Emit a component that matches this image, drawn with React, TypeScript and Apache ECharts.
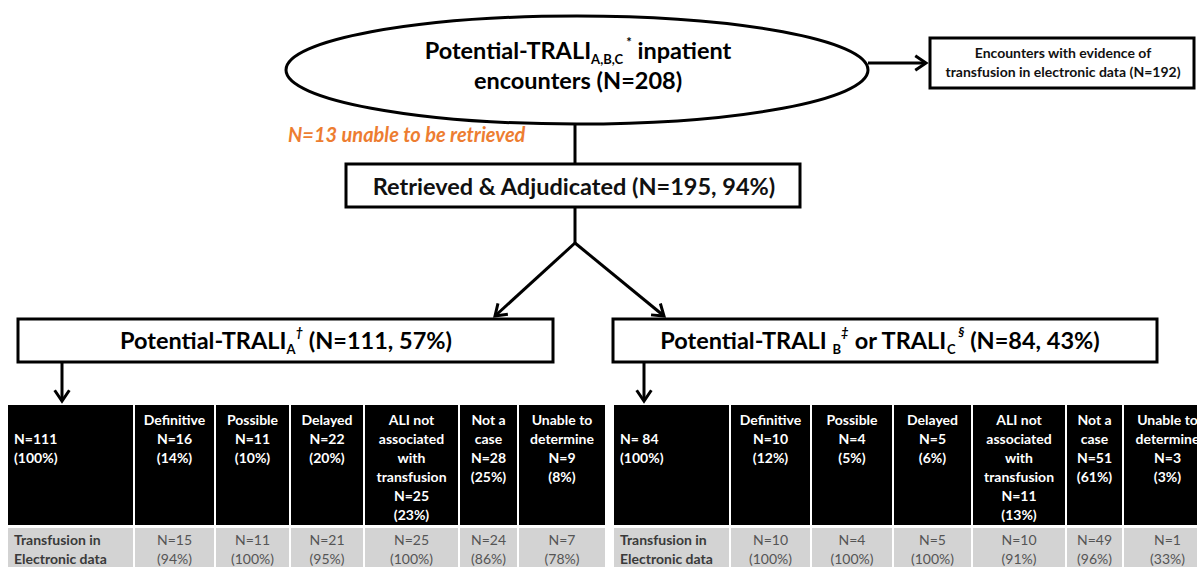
import React, { useEffect, useRef } from "react";
import * as echarts from "echarts";

// ---------- data ----------
const totalEncounters = 208;
const unableRetrieved = 13;
const retrievedN = 195;
const retrievedPct = 94;
const electronicEvidenceN = 192;
const groupATotal = 111;
const groupAPct = 57;
const groupBCTotal = 84;
const groupBCPct = 43;

const categoryLabels: string[][] = [
  ["Definitive"],
  ["Possible"],
  ["Delayed"],
  ["ALI not", "associated", "with", "transfusion"],
  ["Not a", "case"],
  ["Unable to", "determine"],
];
const leftCounts = [16, 11, 22, 25, 28, 9];
const leftPcts = [14, 10, 20, 23, 25, 8];
const leftTransN = [15, 11, 21, 25, 24, 7];
const leftTransPct = [94, 100, 95, 100, 86, 78];
const rightCounts = [10, 4, 5, 11, 51, 3];
const rightPcts = [12, 5, 6, 13, 61, 3];
const rightTransN = [10, 4, 5, 10, 49, 1];
const rightTransPct = [100, 100, 100, 91, 96, 33];
const rowLabel = ["Transfusion in", "Electronic data"];

// ---------- layout ----------
const FONT = "Lato";
const leftCols = [8, 134, 215, 290, 364, 459, 518, 606];
const rightCols = [614, 730, 811, 893, 972, 1066, 1123, 1212];
const headTop = 405;
const headBottom = 525;
const rowTop = 528;
const rowBottom = 575;
const TABLE_FS = 14;

function arrowHead(x1: number, y1: number, x2: number, y2: number, len = 13, ang = 0.6) {
  const d = Math.atan2(y2 - y1, x2 - x1);
  return {
    type: "polyline",
    shape: {
      points: [
        [x2 - len * Math.cos(d - ang), y2 - len * Math.sin(d - ang)],
        [x2, y2],
        [x2 - len * Math.cos(d + ang), y2 - len * Math.sin(d + ang)],
      ],
    },
    style: { stroke: "#000", lineWidth: 3, fill: null },
  };
}
function line(x1: number, y1: number, x2: number, y2: number, w = 3) {
  return { type: "line", shape: { x1, y1, x2, y2 }, style: { stroke: "#000", lineWidth: w } };
}
function arrow(x1: number, y1: number, x2: number, y2: number) {
  return [line(x1, y1, x2, y2), arrowHead(x1, y1, x2, y2)];
}

const titleRich = {
  b: { fontFamily: FONT, fontWeight: "bold", fontSize: 23.5, lineHeight: 30, color: "#111" },
  sub: { fontFamily: FONT, fontWeight: "bold", fontSize: 13, lineHeight: 15, verticalAlign: "bottom", color: "#111" },
  sup: { fontFamily: FONT, fontWeight: "bold", fontStyle: "italic", fontSize: 13, lineHeight: 21, verticalAlign: "top", color: "#111" },
  ast: { fontFamily: FONT, fontWeight: "bold", fontSize: 13, lineHeight: 26, verticalAlign: "top", color: "#111" },
};

function buildTable(
  cols: number[],
  counts: number[],
  pcts: number[],
  tN: number[],
  tP: number[],
  totalLabel: string
) {
  const els: any[] = [];
  for (let i = 0; i < cols.length - 1; i++) {
    const x0 = cols[i] + (i === 0 ? 0 : 1);
    const x1 = cols[i + 1] - 1;
    els.push({ type: "rect", shape: { x: x0, y: headTop, width: x1 - x0, height: headBottom - headTop }, style: { fill: "#000" } });
    els.push({ type: "rect", shape: { x: x0, y: rowTop, width: x1 - x0, height: rowBottom - rowTop }, style: { fill: "#d3d3d3" } });
    const cx = (x0 + x1) / 2;
    if (i === 0) {
      els.push({
        type: "text", x: cols[0] + 6, y: 429,
        style: { text: totalLabel + "\n(100%)", fill: "#fff", fontFamily: FONT, fontWeight: "bold", fontSize: TABLE_FS, lineHeight: 19, align: "left", verticalAlign: "top" },
      });
      els.push({
        type: "text", x: cols[0] + 6, y: 530,
        style: { text: rowLabel.join("\n"), fill: "#3a3a3a", fontFamily: FONT, fontWeight: "bold", fontSize: TABLE_FS, lineHeight: 19, align: "left", verticalAlign: "top" },
      });
    } else {
      const k = i - 1;
      const lines = [...categoryLabels[k], "N=" + counts[k], "(" + pcts[k] + "%)"];
      els.push({
        type: "text", x: cx, y: 410,
        style: { text: lines.join("\n"), fill: "#fff", fontFamily: FONT, fontWeight: "bold", fontSize: TABLE_FS, lineHeight: 19, align: "center", verticalAlign: "top" },
      });
      els.push({
        type: "text", x: cx, y: 530,
        style: { text: "N=" + tN[k] + "\n(" + tP[k] + "%)", fill: "#555", fontFamily: FONT, fontSize: TABLE_FS, lineHeight: 19, align: "center", verticalAlign: "top" },
      });
    }
  }
  return els;
}

export default function App() {
  const ref = useRef<HTMLDivElement>(null);
  useEffect(() => {
    if (!ref.current) return;
    const chart = echarts.init(ref.current, undefined, { renderer: "svg" });
    const elements: any[] = [
      // ellipse
      { type: "ellipse", shape: { cx: 577, cy: 70, rx: 291, ry: 54 }, style: { fill: "#fff", stroke: "#000", lineWidth: 3 } },
      {
        type: "text", x: 578, y: 65,
        style: {
          text: "{b|Potential-TRALI}{sub|A,B,C}{ast| *}{b| inpatient}\n{b|encounters (N=" + totalEncounters + ")}",
          rich: titleRich, align: "center", verticalAlign: "middle",
        },
      },
      ...arrow(868, 63, 926, 63),
      // electronic box
      { type: "rect", shape: { x: 930, y: 38, width: 264, height: 50 }, style: { fill: "#fff", stroke: "#000", lineWidth: 3 } },
      {
        type: "text", x: 1063, y: 62,
        style: {
          text: "Encounters with evidence of\ntransfusion in electronic data (N=" + electronicEvidenceN + ")",
          fill: "#111", fontFamily: FONT, fontWeight: "bold", fontSize: 14, lineHeight: 19, align: "center", verticalAlign: "middle",
        },
      },
      line(575, 124, 575, 164),
      {
        type: "text", x: 288, y: 134,
        style: {
          text: "N=" + unableRetrieved + " unable to be retrieved",
          fill: "#ED7D31", fontFamily: FONT, fontWeight: "bold", fontStyle: "italic", fontSize: 20, align: "left", verticalAlign: "middle",
        },
      },
      { type: "rect", shape: { x: 346, y: 164, width: 454, height: 43 }, style: { fill: "#fff", stroke: "#000", lineWidth: 3 } },
      {
        type: "text", x: 574, y: 186,
        style: {
          text: "Retrieved & Adjudicated (N=" + retrievedN + ", " + retrievedPct + "%)",
          fill: "#111", fontFamily: FONT, fontWeight: "bold", fontSize: 23.5, align: "center", verticalAlign: "middle",
        },
      },
      line(575, 207, 575, 243),
      ...arrow(575, 243, 495, 316),
      ...arrow(575, 243, 664, 316),
      // group boxes
      { type: "rect", shape: { x: 18, y: 319, width: 535, height: 43 }, style: { fill: "#fff", stroke: "#000", lineWidth: 3 } },
      {
        type: "text", x: 286, y: 340,
        style: {
          text: "{b|Potential-TRALI}{sub|A}{sup|†}{b| (N=" + groupATotal + ", " + groupAPct + "%)}",
          rich: titleRich, align: "center", verticalAlign: "middle",
        },
      },
      { type: "rect", shape: { x: 613, y: 319, width: 544, height: 43 }, style: { fill: "#fff", stroke: "#000", lineWidth: 3 } },
      {
        type: "text", x: 880, y: 340,
        style: {
          text: "{b|Potential-TRALI }{sub|B}{sup|‡}{b| or TRALI}{sub|C}{sup| §}{b| (N=" + groupBCTotal + ", " + groupBCPct + "%)}",
          rich: titleRich, align: "center", verticalAlign: "middle",
        },
      },
      ...arrow(62, 362, 62, 401),
      ...arrow(644, 362, 644, 401),
      ...buildTable(leftCols, leftCounts, leftPcts, leftTransN, leftTransPct, "N=" + groupATotal),
      ...buildTable(rightCols, rightCounts, rightPcts, rightTransN, rightTransPct, "N= " + groupBCTotal),
    ];
    chart.setOption({ animation: false, graphic: { elements } });
    return () => chart.dispose();
  }, []);
  return (
    <div
      ref={ref}
      style={{ position: "absolute", left: 0, top: 0, width: 1197, height: 567, background: "#fff" }}
    />
  );
}
